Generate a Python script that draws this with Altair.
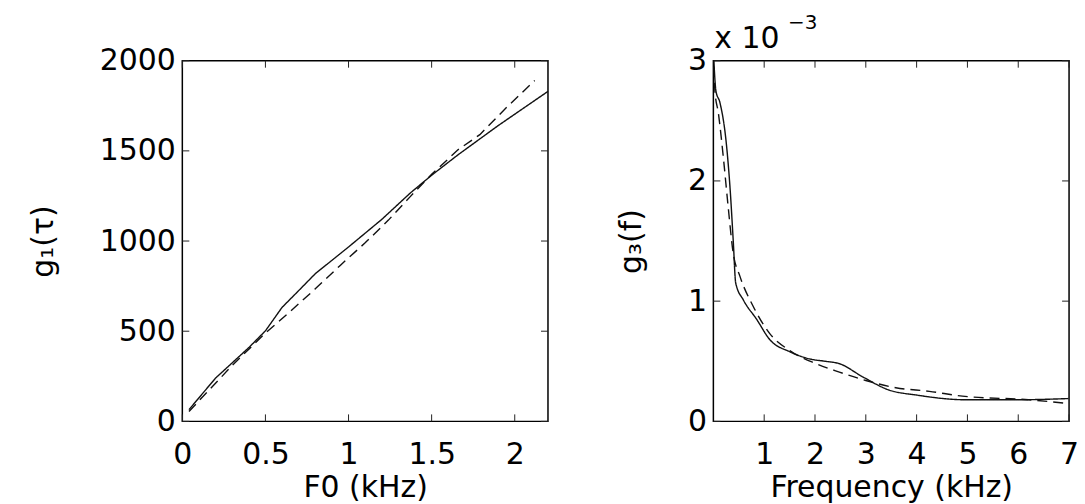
import altair as alt
import pandas as pd

# ---- Left panel: g1(tau) vs F0 ----
f0_solid = [0.04, 0.2, 0.4, 0.5, 0.6, 0.7, 0.8, 1.0, 1.2, 1.37, 1.5, 1.66, 1.9, 2.2]
g1_solid = [65, 240, 409, 502, 632, 725, 819, 967, 1120, 1265, 1365, 1479, 1640, 1830]
f0_dash = [0.04, 0.3, 0.5, 0.65, 0.8, 0.95, 1.1, 1.24, 1.37, 1.5, 1.66, 1.79, 1.95, 2.12]
g1_dash = [55, 310, 490, 610, 735, 865, 990, 1116, 1245, 1370, 1507, 1590, 1740, 1890]

# ---- Right panel: g3(f) vs frequency (values in units of 1e-3) ----
fr_solid = [0.01, 0.05, 0.13, 0.26, 0.33, 0.39, 0.44, 0.59, 0.85, 1.11, 1.5, 1.89, 2.2, 2.48,
            2.94, 3.46, 3.98, 4.96, 6.01, 6.99]
g3_solid = [3.0, 2.75, 2.65, 2.29, 1.93, 1.51, 1.15, 1.01, 0.85, 0.68, 0.58, 0.52, 0.50, 0.48,
            0.37, 0.26, 0.22, 0.18, 0.18, 0.19]
fr_dash = [0.01, 0.03, 0.10, 0.20, 0.29, 0.39, 0.52, 0.78, 1.11, 1.5, 2.02, 2.48, 3.0, 3.59,
           4.25, 4.9, 6.2, 6.96]
g3_dash = [2.95, 2.75, 2.56, 2.18, 1.79, 1.40, 1.21, 0.96, 0.73, 0.59, 0.48, 0.41, 0.34, 0.28,
           0.25, 0.21, 0.18, 0.15]

left_xticks = [0, 0.5, 1, 1.5, 2]
left_yticks = [0, 500, 1000, 1500, 2000]
right_xticks = [1, 2, 3, 4, 5, 6, 7]
right_yticks = [0, 1, 2, 3]

FONT = "DejaVu Sans"
FS = 30
TICK = 7


def lines_df(xs1, ys1, xs2, ys2):
    return pd.DataFrame({
        "x": list(xs1) + list(xs2),
        "y": list(ys1) + list(ys2),
        "s": ["solid"] * len(xs1) + ["dashed"] * len(xs2),
    })


def panel(df, xdom, ydom, xticks, yticks, xtitle, ytitle, W, H, ytitle_pad, xfmt, yfmt,
          interp="linear", extra=None):
    xs = alt.Scale(domain=xdom, nice=False, zero=False)
    ys = alt.Scale(domain=ydom, nice=False, zero=False)
    xaxis = alt.Axis(values=xticks, title=xtitle, grid=False, ticks=False, domain=False, format=xfmt,
                     labelPadding=18, titlePadding=3, labelFont=FONT, titleFont=FONT,
                     labelFontSize=FS, titleFontSize=FS, titleFontWeight="normal",
                     labelColor="black", titleColor="black", labelFlush=False, labelOverlap=False)
    yaxis = alt.Axis(values=yticks, title=ytitle, grid=False, ticks=False, domain=False, format=yfmt,
                     labelPadding=7, titlePadding=ytitle_pad, labelFont=FONT, titleFont=FONT,
                     labelFontSize=FS, titleFontSize=FS, titleFontWeight="normal",
                     labelColor="black", titleColor="black", labelFlush=False, labelOverlap=False)
    lines = alt.Chart(df).mark_line(color="#111111", strokeWidth=1.4, interpolate=interp).encode(
        x=alt.X("x:Q", scale=xs, axis=xaxis),
        y=alt.Y("y:Q", scale=ys, axis=yaxis),
        strokeDash=alt.StrokeDash("s:N", scale=alt.Scale(domain=["solid", "dashed"],
                                                          range=[[1, 0], [10, 6]]), legend=None),
        detail="s:N",
    )
    xt = pd.DataFrame({"x": xticks})
    yt = pd.DataFrame({"y": yticks})
    rule = dict(color="#222222", strokeWidth=1)
    bt = alt.Chart(xt).mark_rule(**rule).encode(
        x=alt.X("x:Q", scale=xs), y=alt.value(H), y2=alt.value(H - TICK))
    tt = alt.Chart(xt).mark_rule(**rule).encode(
        x=alt.X("x:Q", scale=xs), y=alt.value(0), y2=alt.value(TICK))
    lt = alt.Chart(yt).mark_rule(**rule).encode(
        y=alt.Y("y:Q", scale=ys), x=alt.value(0), x2=alt.value(TICK))
    rt = alt.Chart(yt).mark_rule(**rule).encode(
        y=alt.Y("y:Q", scale=ys), x=alt.value(W), x2=alt.value(W - TICK))
    layers = [lines, bt, tt, lt, rt]
    if extra:
        layers += extra
    return alt.layer(*layers).properties(width=W, height=H)


H = 362
left = panel(lines_df(f0_solid, g1_solid, f0_dash, g1_dash), [0, 2.2], [0, 2000],
             left_xticks, left_yticks, "F0 (kHz)", "g₁(τ)", 367, H, 41, "~g", "d")

exp_base = alt.Chart(pd.DataFrame({"t": ["x 10"]})).mark_text(
    font=FONT, fontSize=30, align="left", baseline="alphabetic", color="black"
).encode(text="t:N", x=alt.value(1), y=alt.value(-13))
exp_sup = alt.Chart(pd.DataFrame({"t": ["−3"]})).mark_text(
    font=FONT, fontSize=20, align="left", baseline="alphabetic", color="black"
).encode(text="t:N", x=alt.value(75), y=alt.value(-32))

right = panel(lines_df(fr_solid, g3_solid, fr_dash, g3_dash), [0, 7], [0, 3],
              right_xticks, right_yticks, "Frequency (kHz)", "g₃(f)", 357, H, 41, "d", "d",
              interp="monotone", extra=[exp_base, exp_sup])

chart = alt.hconcat(left, right, spacing=64).properties(
    padding={"left": 27, "top": 11, "right": 5, "bottom": 0},
    background="white",
).configure_view(stroke="black", strokeWidth=1.5)

chart.save("out.html", embed_options={"renderer": "svg", "actions": False})
